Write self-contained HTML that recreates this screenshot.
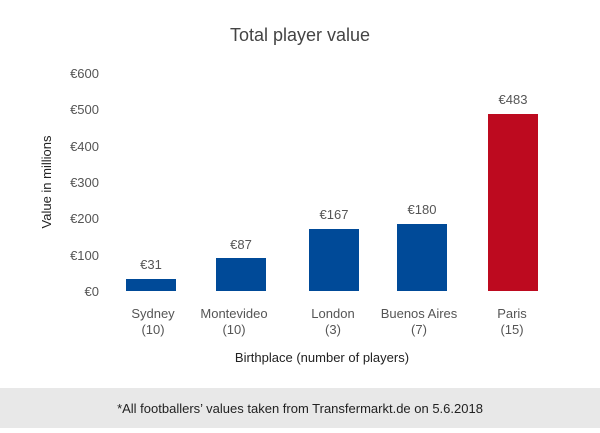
<!DOCTYPE html>
<html><head><meta charset="utf-8"><style>
body{margin:0;width:600px;height:428px;background:#fff;font-family:"Liberation Sans",sans-serif;overflow:hidden}
</style></head><body>
<svg width="600" height="428" xmlns="http://www.w3.org/2000/svg" font-family="Liberation Sans, sans-serif">
<text x="300" y="41" text-anchor="middle" font-size="18" fill="#444">Total player value</text>
<g font-size="13" fill="#555" text-anchor="end">
<text x="99" y="78">€600</text>
<text x="99" y="114">€500</text>
<text x="99" y="151">€400</text>
<text x="99" y="187">€300</text>
<text x="99" y="223">€200</text>
<text x="99" y="260">€100</text>
<text x="99" y="296">€0</text>
</g>
<text transform="translate(51,182) rotate(-90)" text-anchor="middle" font-size="13" fill="#222">Value in millions</text>
<rect x="126" y="279" width="50" height="12" fill="#004a98"/>
<rect x="216" y="258" width="50" height="33" fill="#004a98"/>
<rect x="309" y="229" width="50" height="62" fill="#004a98"/>
<rect x="397" y="224" width="50" height="67" fill="#004a98"/>
<rect x="488" y="114" width="50" height="177" fill="#bd0a1f"/>
<g font-size="13" fill="#555" text-anchor="middle">
<text x="151" y="269">€31</text>
<text x="241" y="249">€87</text>
<text x="334" y="219">€167</text>
<text x="422" y="214">€180</text>
<text x="513" y="104">€483</text>
<text x="153" y="318">Sydney</text><text x="153" y="334">(10)</text>
<text x="234" y="318">Montevideo</text><text x="234" y="334">(10)</text>
<text x="333" y="318">London</text><text x="333" y="334">(3)</text>
<text x="419" y="318">Buenos Aires</text><text x="419" y="334">(7)</text>
<text x="512" y="318">Paris</text><text x="512" y="334">(15)</text>
</g>
<text x="322" y="362" text-anchor="middle" font-size="13" fill="#222">Birthplace (number of players)</text>
<rect x="0" y="388" width="600" height="40" fill="#e8e8e8"/>
<text x="300" y="413" text-anchor="middle" font-size="13" fill="#222">*All footballers’ values taken from Transfermarkt.de on 5.6.2018</text>
</svg>
</body></html>
